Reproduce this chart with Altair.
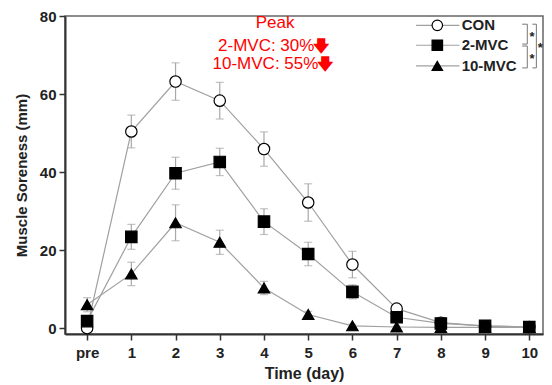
import altair as alt
import pandas as pd

days = [0, 1, 2, 3, 4, 5, 6, 7, 8, 9, 10]
groups = ["CON", "2-MVC", "10-MVC"]
con_mean = [0.0, 50.4, 63.2, 58.3, 45.9, 32.2, 16.3, 5.0, 1.4, 0.5, 0.3]
con_se = [0.0, 4.2, 4.8, 4.7, 4.4, 4.8, 3.4, 1.0, 0.5, 0.3, 0.2]
mvc2_mean = [1.8, 23.4, 39.7, 42.6, 27.3, 19.0, 9.3, 2.8, 1.2, 0.6, 0.3]
mvc2_se = [0.8, 3.2, 4.1, 3.5, 3.3, 3.0, 1.8, 1.0, 0.5, 0.3, 0.2]
mvc10_mean = [6.0, 13.9, 27.0, 22.0, 10.3, 3.5, 0.6, 0.3, 0.2, 0.2, 0.2]
mvc10_se = [1.8, 3.0, 4.6, 3.1, 1.7, 0.8, 0.4, 0.2, 0.1, 0.1, 0.1]

rows = []
for g, m, s in zip(groups, [con_mean, mvc2_mean, mvc10_mean], [con_se, mvc2_se, mvc10_se]):
    for d, mv, sv in zip(days, m, s):
        rows.append({"day": d, "group": g, "mean": mv, "lo": mv - sv, "hi": mv + sv})
df = pd.DataFrame(rows)

FONT = "Liberation Sans"
xscale = alt.Scale(domain=[-0.5, 10.31], nice=False, zero=False)
yscale = alt.Scale(domain=[-1.5, 80], nice=False, zero=False)
shape_scale = alt.Scale(domain=groups, range=["circle", "square", "triangle-up"])
fill_scale = alt.Scale(domain=groups, range=["white", "black", "black"])

x_enc = alt.X("day:Q", scale=xscale, title="Time (day)",
              axis=alt.Axis(values=days, labelExpr="datum.value == 0 ? 'pre' : datum.label"))
y_enc = alt.Y("mean:Q", scale=yscale, title="Muscle Soreness (mm)",
              axis=alt.Axis(values=[0, 20, 40, 60, 80]))

base = alt.Chart(df)
lines = base.mark_line(color="#a0a0a0", strokeWidth=1.2).encode(
    x=x_enc, y=y_enc, detail="group:N")
err = base.mark_rule(color="#a8a8a8", strokeWidth=1.2).encode(
    x="day:Q", y="lo:Q", y2="hi:Q")
cap_hi = base.mark_tick(color="#a8a8a8", thickness=1.2, size=8, orient="horizontal").encode(
    x="day:Q", y="hi:Q")
cap_lo = base.mark_tick(color="#a8a8a8", thickness=1.2, size=8, orient="horizontal").encode(
    x="day:Q", y="lo:Q")
pts = base.mark_point(size=130, stroke="black", strokeWidth=1.2, opacity=1, filled=False).encode(
    x="day:Q", y="mean:Q",
    shape=alt.Shape("group:N", scale=shape_scale, legend=None),
    fill=alt.Fill("group:N", scale=fill_scale, legend=None),
)

# manual legend in data space
leg_y = [77.6, 72.5, 67.2]
leg_df = pd.DataFrame({"group": groups, "y": leg_y, "x0": [7.44] * 3, "x1": [8.42] * 3,
                       "xm": [7.92] * 3, "xt": [8.47] * 3})
lch = alt.Chart(leg_df)
leg_lines = lch.mark_rule(color="#a0a0a0", strokeWidth=1.2).encode(x="x0:Q", x2="x1:Q", y="y:Q")
leg_pts = lch.mark_point(size=110, stroke="black", strokeWidth=1.2, opacity=1).encode(
    x="xm:Q", y="y:Q",
    shape=alt.Shape("group:N", scale=shape_scale, legend=None),
    fill=alt.Fill("group:N", scale=fill_scale, legend=None))
leg_text = lch.mark_text(align="left", baseline="middle", font=FONT, fontSize=15,
                         fontWeight="bold", color="#222").encode(x="xt:Q", y="y:Q", text="group:N")

# significance brackets
br_df = pd.DataFrame({
    "x0": [9.84, 9.84, 9.84, 9.84, 9.955, 9.955, 10.07, 10.07, 10.16],
    "x1": [9.955, 9.955, 9.955, 9.955, 9.955, 9.955, 10.16, 10.16, 10.16],
    "y0": [77.9, 72.8, 72.3, 66.7, 77.9, 72.3, 77.9, 66.7, 77.9],
    "y1": [77.9, 72.8, 72.3, 66.7, 72.8, 66.7, 77.9, 66.7, 66.7],
})
brackets = alt.Chart(br_df).mark_rule(color="#777", strokeWidth=1).encode(
    x="x0:Q", x2="x1:Q", y="y0:Q", y2="y1:Q")
star_df = pd.DataFrame({"x": [10.06, 10.06, 10.25], "y": [75.4, 69.8, 72.6], "t": ["*", "*", "*"]})
stars = alt.Chart(star_df).mark_text(font=FONT, fontSize=13, fontWeight="bold", color="#222",
                                     baseline="middle", dy=3).encode(x="x:Q", y="y:Q", text="t:N")

# red annotation
ann_x = [4.25, 5.14, 5.23]
ann_y = [78.3, 72.3, 67.7]
ann_text = ["Peak", "2-MVC: 30%", "10-MVC: 55%"]
ann_df = pd.DataFrame({"x": ann_x, "y": ann_y, "t": ann_text})
ann_c = alt.Chart(ann_df.iloc[:1]).mark_text(font=FONT, fontSize=17, color="#ff0000",
                                             baseline="middle", align="center").encode(
    x="x:Q", y="y:Q", text="t:N")
ann_r = alt.Chart(ann_df.iloc[1:]).mark_text(font=FONT, fontSize=17, color="#ff0000",
                                             baseline="middle", align="right").encode(
    x="x:Q", y="y:Q", text="t:N")
arrow_df = pd.DataFrame({"x": [5.29, 5.38], "y": [72.3, 67.7], "t": ["🡇", "🡇"]})
arrows = alt.Chart(arrow_df).mark_text(font="DejaVu Sans", fontSize=16, fontWeight="bold",
                                       color="#ff0000", baseline="middle", align="center").encode(
    x="x:Q", y="y:Q", text="t:N")

chart = alt.layer(lines, err, cap_hi, cap_lo, pts, leg_lines, leg_pts, leg_text,
                  brackets, stars, ann_c, ann_r, arrows).properties(
    width=478, height=318,
    autosize=alt.AutoSizeParams(type="none"),
    padding={"left": 57, "top": 8, "right": 1, "bottom": 50},
    background="white",
).configure_view(stroke="#666", strokeWidth=1.5).configure_axis(
    grid=False, domainColor="#333", domainWidth=2, tickColor="#333", tickWidth=1.5,
    tickSize=6, labelFont=FONT, labelFontSize=15, labelFontWeight="bold", labelColor="#222",
    titleFont=FONT, titleFontWeight="bold", titleColor="#222",
).configure_axisY(labelPadding=3, titlePadding=10, titleFontSize=15).configure_axisX(
    labelPadding=5, titlePadding=5, titleFontSize=16)

chart.save("out.html", embed_options={"renderer": "svg", "actions": False})
